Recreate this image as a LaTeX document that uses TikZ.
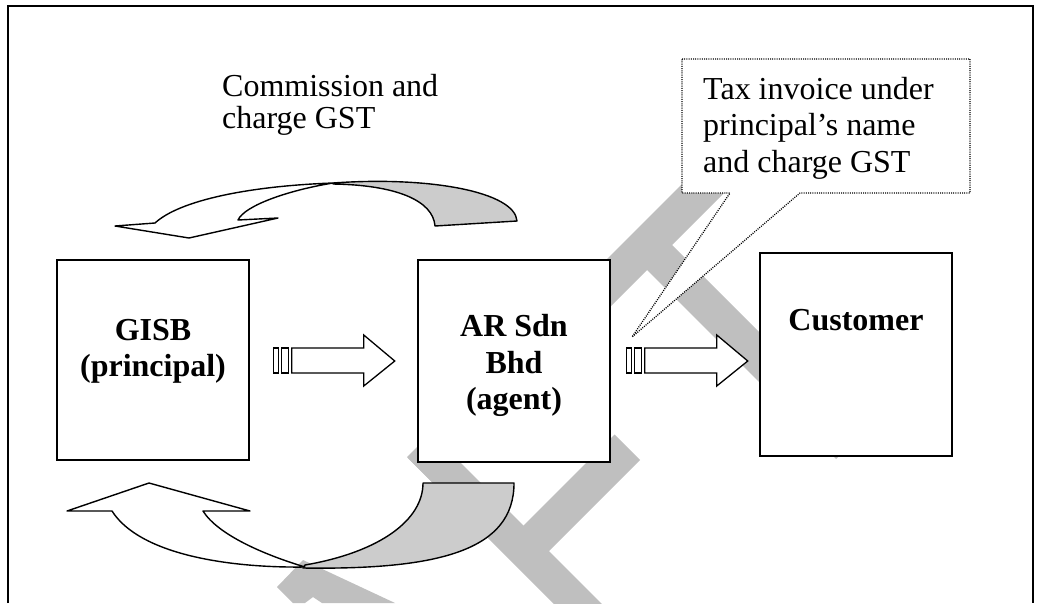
\documentclass[tikz,border=0pt]{standalone}
\usepackage{fontspec}
\setmainfont{Liberation Serif}
\begin{document}
\begin{tikzpicture}[x=1pt,y=-1pt,
  boxnode/.style={draw=black, line width=1.5pt, fill=white, inner sep=0pt},
  lbl/.style={font=\fontsize{32}{36}\selectfont, inner sep=0pt, anchor=base west},
  blbl/.style={font=\fontsize{32}{36}\selectfont\bfseries, inner sep=0pt, anchor=base},
  wm/.style={fill=black!25, draw=none},
  backface/.style={fill=black!20, draw=black, line width=1.4pt, line join=round},
  frontface/.style={fill=white, draw=black, line width=1.4pt, line join=round},
  arrowline/.style={fill=white, draw=black, line width=1.3pt},
  callout/.style={fill=white, draw=black, line width=1.3pt, dash pattern=on 1pt off 1.2pt},
  stripedarrow/.pic={
    \filldraw[arrowline] (0,-13) rectangle (5,12);
    \filldraw[arrowline] (8,-13) rectangle (15,12);
    \filldraw[arrowline] (18,-13) -- (90,-13) -- (90,-26) -- (121,0) -- (90,25) -- (90,12) -- (18,12) -- cycle;
  }
]
\useasboundingbox (0,0) rectangle (1040,603);

% watermark bands
\begin{scope}
\clip (0,0) rectangle (1040,603);
\fill[wm] (713,153) -- (738.5,178.5) -- (433.5,483.5) -- (408,458) -- cycle;
\fill[wm] (653.5,226.5) -- (861,434) -- (836,459) -- (628.5,251.5) -- cycle;
\fill[wm] (614.5,434.5) -- (640,460) -- (545,555) -- (519.5,529.5) -- cycle;
\fill[wm] (431,433) -- (649,651) -- (625,675) -- (407,457) -- cycle;
\fill[wm] (303,560) -- (395,603) -- (322,603) -- (313,597) -- (305,603) -- (293,603) -- (277,587) -- cycle;
\end{scope}

% frame
\draw[line width=1.8pt] (8,603) -- (8,6) -- (1033,6) -- (1033,603);

% boxes
\node[boxnode, minimum width=192pt, minimum height=200pt] (gisb) at (153,360) {};
\node[boxnode, minimum width=192pt, minimum height=202pt] (ar) at (514,361) {};
\node[boxnode, minimum width=192pt, minimum height=203pt] (cust) at (856,354.5) {};

\node[blbl] (g1) at (153,340) {GISB};
\node[blbl] (g2) at (153,376) {(principal)};
\node[blbl] (a1) at (514,336) {AR Sdn};
\node[blbl] (a2) at (514,373) {Bhd};
\node[blbl] (a3) at (514,409) {(agent)};
\node[blbl] (c1) at (856,330) {Customer};

% striped block arrows
\pic (arrA) at ([xshift=24pt,yshift=-1pt]gisb.east) {stripedarrow};
\pic (arrB) at ([xshift=16pt]ar.east) {stripedarrow};

% top curved arrow
\filldraw[backface] (333,183) .. controls (430,176) and (515,192) .. (517,221)
  -- (435,226) .. controls (433,200) and (395,185) .. (333,184) -- cycle;
\filldraw[frontface] (155,223) .. controls (180,200) and (250,186) .. (333,183)
  .. controls (290,190) and (245,205) .. (238,220)
  -- (278,218) -- (189,238) -- (115,226) -- cycle;

% bottom curved arrow
\filldraw[backface] (303,568) .. controls (440,570) and (514,550) .. (514,483)
  -- (423,483) .. controls (423,520) and (380,552) .. (305,565) -- cycle;
\filldraw[frontface] (112,511) .. controls (140,555) and (230,568) .. (305,567)
  .. controls (265,555) and (218,535) .. (203,511)
  -- (250,511) -- (149,483) -- (67,511) -- cycle;

% callout
\filldraw[callout] (682,59) -- (970,59) -- (970,193) -- (800,193) -- (632,337)
  -- (730,193) -- (682,193) -- cycle;
\node[lbl] (t1) at (703,99) {Tax invoice under};
\node[lbl] (t2) at (703,135) {principal’s name};
\node[lbl] (t3) at (703,172) {and charge GST};

% commission label
\node[lbl] (m1) at (222,96) {Commission and};
\node[lbl] (m2) at (222,128) {charge GST};
\end{tikzpicture}
\end{document}
